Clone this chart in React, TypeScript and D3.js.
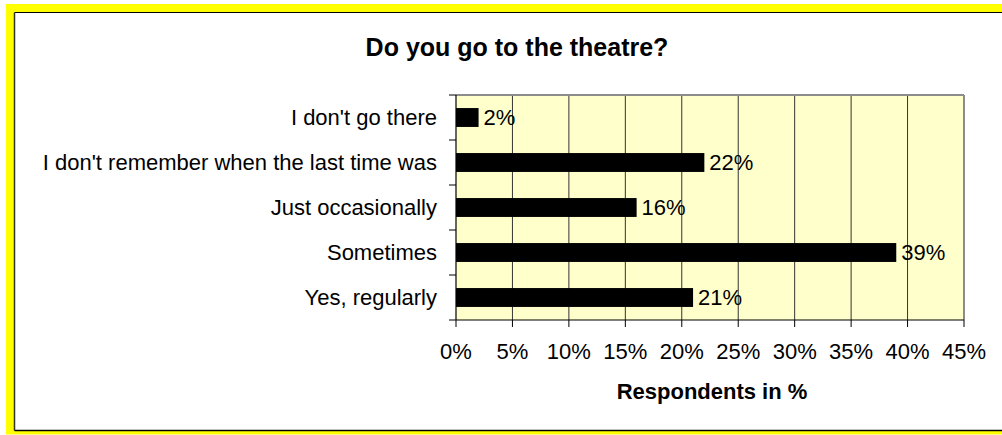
import React from "react";
import * as d3 from "d3";

const categories = [
  "I don't go there",
  "I don't remember when the last time was",
  "Just occasionally",
  "Sometimes",
  "Yes, regularly",
];
const values = [2, 22, 16, 39, 21];
const xTicks = [0, 5, 10, 15, 20, 25, 30, 35, 40, 45];
const title = "Do you go to the theatre?";
const xTitle = "Respondents in %";

const W = 1002;
const H = 435;
const plot = { left: 456, right: 964, top: 95, bottom: 320 };
const font = "Arial, 'Liberation Sans', sans-serif";

export default function App() {
  const x = d3.scaleLinear().domain([0, 45]).range([plot.left, plot.right]);
  const y = d3
    .scaleBand<string>()
    .domain(categories)
    .range([plot.top, plot.bottom])
    .paddingInner(0.58)
    .paddingOuter(0.29);
  const band = d3.scaleBand<string>().domain(categories).range([plot.top, plot.bottom]);
  const boundaries = d3.range(categories.length + 1).map((i) => plot.top + i * band.step());

  return (
    <svg
      width={W}
      height={H}
      style={{ position: "absolute", left: 0, top: 0, display: "block" }}
      fontFamily={font}
    >
      <rect x={0} y={0} width={W} height={H} fill="#ffffff" />
      {/* yellow frame */}
      <rect x={6} y={4} width={W - 6} height={8.5} fill="#ffff00" />
      <rect x={6} y={4} width={8.5} height={431 - 4} fill="#ffff00" />
      <rect x={6} y={431} width={W - 6} height={3.5} fill="#ffff00" />
      {/* black inner frame lines */}
      <line x1={14.5} y1={12.5} x2={W} y2={12.5} stroke="#000" strokeWidth={1.2} />
      <line x1={14.5} y1={12.5} x2={14.5} y2={430.5} stroke="#333" strokeWidth={1.5} />
      <line x1={14.5} y1={430.5} x2={W} y2={430.5} stroke="#000" strokeWidth={1.5} />

      {/* title */}
      <text x={517} y={56} textAnchor="middle" fontSize={25} fontWeight="bold" fill="#000">
        {title}
      </text>

      {/* plot background */}
      <rect
        x={plot.left}
        y={plot.top}
        width={plot.right - plot.left}
        height={plot.bottom - plot.top}
        fill="#ffffcc"
      />
      {/* gridlines */}
      {xTicks.slice(1, -1).map((t) => (
        <line
          key={"g" + t}
          x1={x(t)}
          x2={x(t)}
          y1={plot.top}
          y2={plot.bottom}
          stroke="#333"
          strokeWidth={1}
        />
      ))}
      {/* plot border top/right grey */}
      <line x1={plot.left} x2={plot.right} y1={plot.top} y2={plot.top} stroke="#8c8c8c" strokeWidth={2} />
      <line x1={plot.right} x2={plot.right} y1={plot.top} y2={plot.bottom} stroke="#8c8c8c" strokeWidth={2} />

      {/* bars */}
      {categories.map((c, i) => (
        <rect
          key={"b" + c}
          x={x(0)}
          y={y(c)!}
          width={x(values[i]) - x(0)}
          height={y.bandwidth()}
          fill="#000"
        />
      ))}
      {/* value labels */}
      {categories.map((c, i) => (
        <text
          key={"v" + c}
          x={x(values[i]) + 5}
          y={y(c)! + y.bandwidth() / 2}
          dy="0.36em"
          fontSize={22}
          fill="#000"
        >
          {values[i]}%
        </text>
      ))}

      {/* axes */}
      <line x1={plot.left} x2={plot.left} y1={plot.top} y2={plot.bottom} stroke="#000" strokeWidth={1.2} />
      <line x1={plot.left} x2={plot.right} y1={plot.bottom} y2={plot.bottom} stroke="#000" strokeWidth={1.2} />
      {boundaries.map((b, i) => (
        <line key={"yt" + i} x1={plot.left - 7} x2={plot.left} y1={b} y2={b} stroke="#000" strokeWidth={1} />
      ))}
      {xTicks.map((t) => (
        <line key={"xt" + t} x1={x(t)} x2={x(t)} y1={plot.bottom} y2={plot.bottom + 7} stroke="#000" strokeWidth={1} />
      ))}

      {/* category labels */}
      {categories.map((c) => (
        <text
          key={"c" + c}
          x={437}
          y={band(c)! + band.bandwidth() / 2}
          dy="0.36em"
          textAnchor="end"
          fontSize={22}
          fill="#000"
        >
          {c}
        </text>
      ))}
      {/* x tick labels */}
      {xTicks.map((t) => (
        <text key={"xl" + t} x={x(t)} y={358.5} textAnchor="middle" fontSize={22} fill="#000">
          {t}%
        </text>
      ))}
      {/* x title */}
      <text x={712} y={398.5} textAnchor="middle" fontSize={22} fontWeight="bold" fill="#000">
        {xTitle}
      </text>
    </svg>
  );
}
